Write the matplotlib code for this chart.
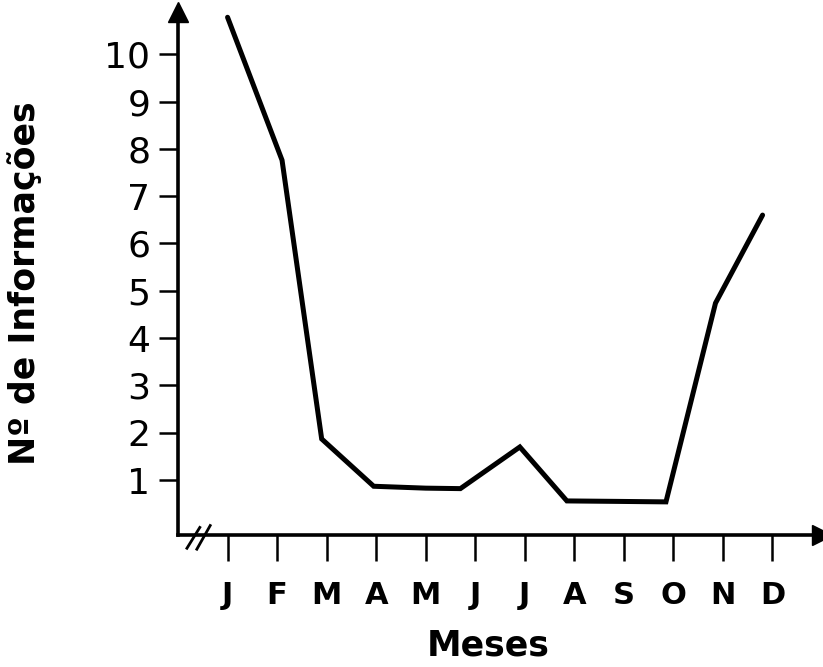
import numpy as np
import matplotlib
matplotlib.use('Agg')
import matplotlib.pyplot as plt

# month labels and values
months = ['J', 'F', 'M', 'A', 'M', 'J', 'J', 'A', 'S', 'O', 'N', 'D']
month_pos = [1, 2, 3, 4, 5, 6, 7, 8, 9, 10, 11, 12]
x_pts = [1.0, 2.1, 2.9, 3.95, 5.0, 5.7, 6.9, 7.85, 8.9, 9.85, 10.85, 11.8]
n_info = [10.78, 7.76, 1.87, 0.87, 0.83, 0.82, 1.70, 0.56, 0.55, 0.54, 4.74, 6.60]
y_ticks = [1, 2, 3, 4, 5, 6, 7, 8, 9, 10]

fig = plt.figure(figsize=(8.23, 6.67), dpi=100)
ax = fig.add_axes([0.2163, 0.1979, 0.7825, 0.784])

ax.plot(x_pts, n_info, color='black', lw=3.6, solid_joinstyle='miter',
        solid_capstyle='round')

ax.set_xlim(0, 13.0)
ax.set_ylim(-0.16, 10.89)

ax.spines['top'].set_visible(False)
ax.spines['right'].set_visible(False)
ax.spines['left'].set_linewidth(2.6)
ax.spines['bottom'].set_linewidth(2.6)

# arrow heads at the ends of the axes
ax.plot([0], [1], marker='^', ms=14, color='black', transform=ax.transAxes, clip_on=False)
ax.plot([1], [0], marker='>', ms=14, color='black', transform=ax.transAxes, clip_on=False)

# axis break marks
ax.plot([0.18, 0.44], [-0.44, 0.0], color='black', lw=2, clip_on=False)
ax.plot([0.38, 0.65], [-0.46, 0.04], color='black', lw=2, clip_on=False)

ax.set_xticks(month_pos)
ax.set_xticklabels(months, fontsize=22, fontweight='bold')
ax.tick_params(axis='x', direction='out', length=19, width=1.8, pad=14)

ax.set_yticks(y_ticks)
ax.set_yticklabels([str(v) for v in y_ticks], fontsize=26, fontweight='normal')
ax.tick_params(axis='y', direction='out', length=14, width=1.8, pad=6)

ax.set_xlabel('Meses', fontsize=25, fontweight='bold')
ax.xaxis.set_label_coords((488 - 178) / 644, -0.178)
fig.text(25 / 823, 1 - 283 / 667, 'Nº de Informações', rotation=90,
         fontsize=25, fontweight='bold', ha='center', va='center')

fig.savefig('out.png', dpi=100, facecolor='white')
